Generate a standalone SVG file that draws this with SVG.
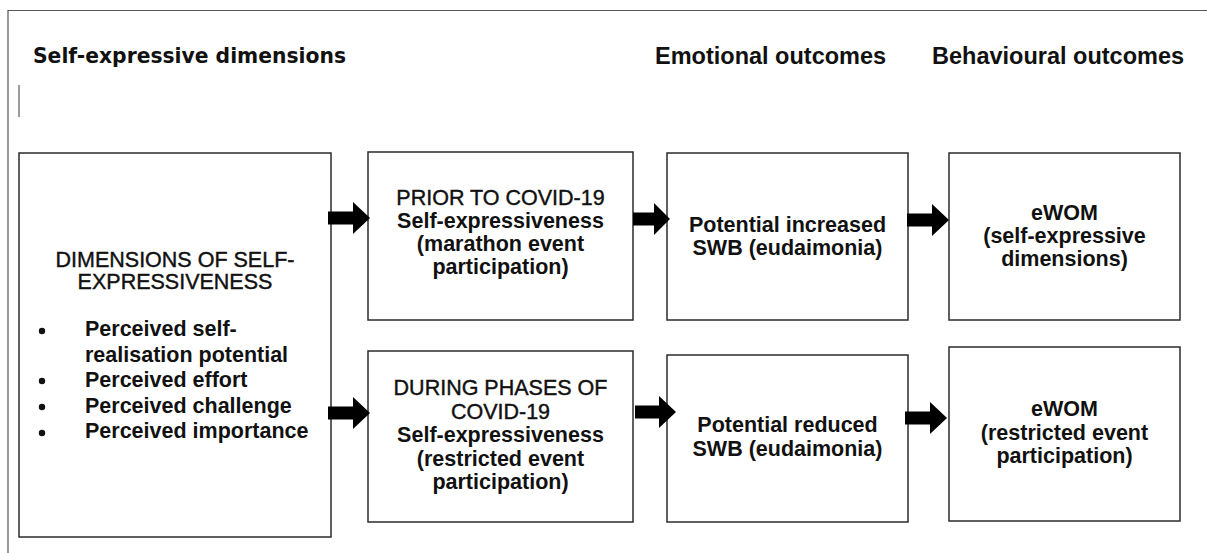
<svg xmlns="http://www.w3.org/2000/svg" width="1207" height="553" viewBox="0 0 1207 553">
<style>
.box{fill:#fff;stroke:#2b2b2b;stroke-width:1.5}
.t{font-family:"Liberation Sans",Arial,sans-serif;font-size:21.5px;fill:#111;text-anchor:middle;stroke:#111;stroke-width:0.4}
.b{font-weight:bold;stroke-width:0}
.hd{font-family:"Liberation Sans",Arial,sans-serif;font-size:23.5px;font-weight:bold;fill:#111}
.li{font-family:"Liberation Sans",Arial,sans-serif;font-size:21.5px;font-weight:bold;fill:#111}
.arrow{fill:#000}
.frame{fill:none;stroke:#555;stroke-width:1.2}
</style>
<rect width="1207" height="553" fill="#fff"/>
<path class="frame" d="M8,553 V10.5 H1207"/>
<line x1="19" y1="85" x2="19" y2="117" stroke="#666" stroke-width="1.3"/>
<g id="headers">
<text x="33" y="63" font-family="DejaVu Sans,sans-serif" font-size="21" font-weight="bold" fill="#111" textLength="313" lengthAdjust="spacingAndGlyphs">Self-expressive dimensions</text>
<text class="hd" x="655" y="64">Emotional outcomes</text>
<text class="hd" x="932" y="64">Behavioural outcomes</text>
</g>
<g id="node-dimensions">
<rect class="box" x="19" y="153" width="312" height="384"/>
<text class="t" x="175" y="266.5">DIMENSIONS OF SELF-</text>
<text class="t" x="175" y="288.5">EXPRESSIVENESS</text>
<circle cx="42" cy="331" r="3.2" fill="#111"/>
<circle cx="42" cy="381" r="3.2" fill="#111"/>
<circle cx="42" cy="407" r="3.2" fill="#111"/>
<circle cx="42" cy="433" r="3.2" fill="#111"/>
<text class="li" x="85" y="336">Perceived self-</text>
<text class="li" x="85" y="361.5">realisation potential</text>
<text class="li" x="85" y="387">Perceived effort</text>
<text class="li" x="85" y="412.5">Perceived challenge</text>
<text class="li" x="85" y="438">Perceived importance</text>
</g>
<g id="node-prior">
<rect class="box" x="368" y="152" width="265" height="168"/>
<text class="t" x="500.5" y="205">PRIOR TO COVID-19</text>
<text class="t b" x="500.5" y="228">Self-expressiveness</text>
<text class="t b" x="500.5" y="251">(marathon event</text>
<text class="t b" x="500.5" y="274">participation)</text>
</g>
<g id="node-increased">
<rect class="box" x="667" y="153" width="241" height="167"/>
<text class="t b" x="787.5" y="232">Potential increased</text>
<text class="t b" x="787.5" y="255">SWB (eudaimonia)</text>
</g>
<g id="node-ewom-top">
<rect class="box" x="949" y="153" width="231" height="167"/>
<text class="t b" x="1064.5" y="220">eWOM</text>
<text class="t b" x="1064.5" y="243">(self-expressive</text>
<text class="t b" x="1064.5" y="266">dimensions)</text>
</g>
<g id="node-during">
<rect class="box" x="368" y="351" width="265" height="171"/>
<text class="t" x="500.5" y="395">DURING PHASES OF</text>
<text class="t" x="500.5" y="418.5">COVID-19</text>
<text class="t b" x="500.5" y="442">Self-expressiveness</text>
<text class="t b" x="500.5" y="465.5">(restricted event</text>
<text class="t b" x="500.5" y="489">participation)</text>
</g>
<g id="node-reduced">
<rect class="box" x="667" y="355" width="241" height="167"/>
<text class="t b" x="787.5" y="432">Potential reduced</text>
<text class="t b" x="787.5" y="455.5">SWB (eudaimonia)</text>
</g>
<g id="node-ewom-bottom">
<rect class="box" x="949" y="347" width="231" height="174"/>
<text class="t b" x="1064.5" y="416">eWOM</text>
<text class="t b" x="1064.5" y="439.5">(restricted event</text>
<text class="t b" x="1064.5" y="463">participation)</text>
</g>
<g id="connectors">
<path class="arrow" d="M328,211.5 H353 V202 L370,218 L353,234 V224.5 H328 Z"/>
<path class="arrow" d="M633,212.5 H654 V203 L670,219 L654,235 V225.5 H633 Z"/>
<path class="arrow" d="M907,213.5 H932 V204 L949,220 L932,236 V226.5 H907 Z"/>
<path class="arrow" d="M328,406.5 H353 V397 L370,413 L353,429 V419.5 H328 Z"/>
<path class="arrow" d="M635,405.5 H659 V396 L676,412 L659,428 V418.5 H635 Z"/>
<path class="arrow" d="M905,411.5 H930 V402 L947,418 L930,434 V424.5 H905 Z"/>
</g>
</svg>
